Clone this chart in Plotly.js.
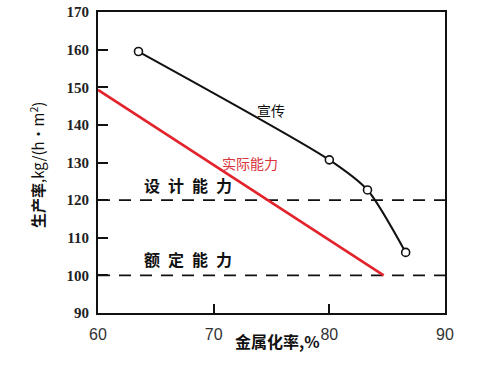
<!DOCTYPE html>
<html>
<head>
<meta charset="utf-8">
<script src="https://cdn.plot.ly/plotly-3.0.1.min.js"></script>
<style>html,body{margin:0;padding:0;background:#fff;}#chart{width:483px;height:370px;}</style>
</head>
<body>
<div id="chart"></div>
<script>
// Data
const promoX = [63.5, 80.0, 83.3, 86.6];
const promoY = [159.5, 130.7, 122.7, 106.1];
const actualX = [60, 84.7];
const actualY = [149.3, 100];
const refX = [60, 90];
const designLevel = 120;
const ratedLevel = 100;
const xTicks = [60, 70, 80, 90];
const yTicks = [90, 100, 110, 120, 130, 140, 150, 160, 170];

const traces = [
  {x: refX, y: [designLevel, designLevel], mode: 'lines', line: {color: '#111', width: 1.6, dash: '12px,9px'}, hoverinfo: 'skip'},
  {x: refX, y: [ratedLevel, ratedLevel], mode: 'lines', line: {color: '#111', width: 1.6, dash: '12px,9px'}, hoverinfo: 'skip'},
  {x: actualX, y: actualY, mode: 'lines', line: {color: '#e3232c', width: 2.6}},
  {x: promoX, y: promoY, mode: 'lines+markers', line: {color: '#111', width: 2, shape: 'spline', smoothing: 0.7},
   marker: {symbol: 'circle', size: 8, color: '#fff', line: {color: '#111', width: 1.6}}}
];

const layout = {
  width: 483, height: 370,
  margin: {l: 98, r: 38, t: 12, b: 57},
  paper_bgcolor: '#fff', plot_bgcolor: '#fff',
  showlegend: false,
  xaxis: {
    range: [60, 90], tickvals: xTicks, ticktext: xTicks.map(String),
    showgrid: false, zeroline: false, showline: true, mirror: true, linecolor: '#111', linewidth: 2,
    ticks: 'inside', ticklen: 9, tickwidth: 2, tickcolor: '#111',
    tickfont: {family: 'Liberation Sans', size: 16, color: '#333'},
    ticklabelstandoff: 6
  },
  yaxis: {
    range: [90, 170], tickvals: yTicks, ticktext: yTicks.map(String),
    showgrid: false, zeroline: false, showline: true, mirror: true, linecolor: '#111', linewidth: 2,
    ticks: 'inside', ticklen: 10, tickwidth: 2, tickcolor: '#111',
    tickfont: {family: 'Liberation Serif', size: 15, color: '#222', weight: 'bold'},
    ticklabelstandoff: 4
  },
  annotations: [
    {x: 74.95, y: 144, xref: 'x', yref: 'y', text: '宣传', showarrow: false,
     font: {family: 'Noto Sans CJK SC', size: 14, color: '#111'}},
    {x: 73.1, y: 130, xref: 'x', yref: 'y', text: '实际能力', showarrow: false,
     font: {family: 'Noto Sans CJK SC', size: 14, color: '#d9343c'}},
    {x: 67.8, y: 124, xref: 'x', yref: 'y', text: '设\u2002计\u2002能\u2002力', showarrow: false,
     font: {family: 'Noto Sans CJK SC', size: 16, color: '#111', weight: 'bold'}},
    {x: 67.8, y: 104.3, xref: 'x', yref: 'y', text: '额\u2002定\u2002能\u2002力', showarrow: false,
     font: {family: 'Noto Sans CJK SC', size: 16, color: '#111', weight: 'bold'}},
    {x: 277, y: 355, xref: 'paper', yref: 'paper', text: '金属化率,%', showarrow: false,
     font: {family: 'Noto Sans CJK SC', size: 16, color: '#111', weight: 'bold'}},
    {x: 24, y: 165, text: '<b>生产率</b>,kg/(h·m<sup>2</sup>)', showarrow: false, textangle: -90,
     font: {family: 'Noto Sans CJK SC', size: 15, color: '#111'}}
  ]
};
// convert the two title annotations from pixel positions to paper coords
const pw = 483 - 98 - 38, ph = 370 - 12 - 57;
layout.annotations[4].x = (277 - 98) / pw; layout.annotations[4].y = 1 - (355 - 12) / ph;
layout.annotations[5].xref = 'paper'; layout.annotations[5].yref = 'paper';
layout.annotations[5].x = (24 - 98) / pw; layout.annotations[5].y = 1 - (165 - 12) / ph;

Plotly.newPlot('chart', traces, layout, {staticPlot: true, displayModeBar: false});
</script>
</body>
</html>
